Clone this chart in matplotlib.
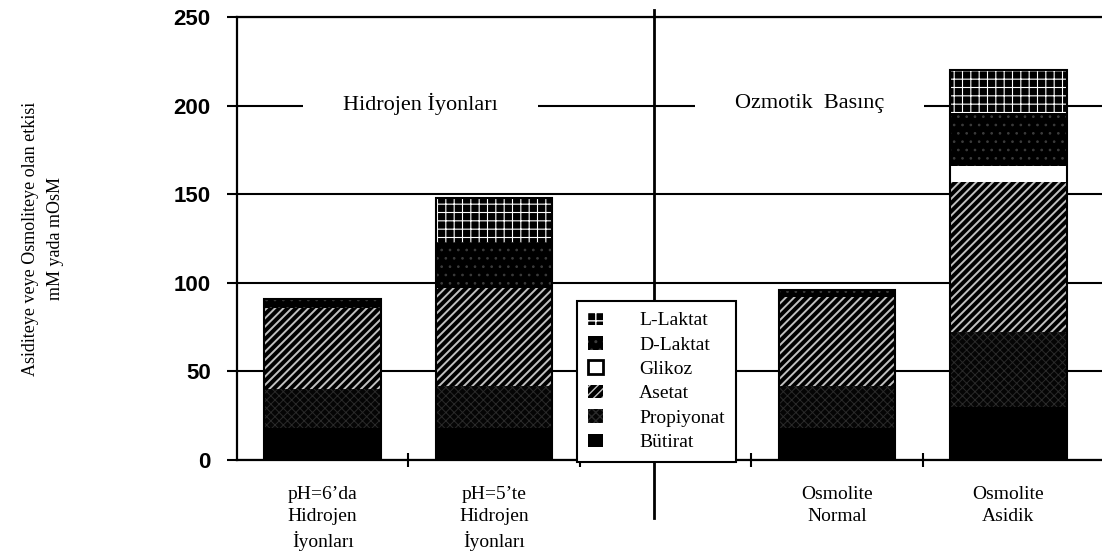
import numpy as np
import matplotlib.pyplot as plt
from matplotlib.patches import Patch

# ----- Data -----
categories = ["pH=6’da\nHidrojen\nİyonları", "pH=5’te\nHidrojen\nİyonları",
              "Osmolite\nNormal", "Osmolite\nAsidik"]
positions = [0, 1, 3, 4]

butirat = [18, 18, 18, 30]
propiyonat = [22, 24, 24, 42]
asetat = [46, 55, 50, 85]
glikoz = [0, 0, 0, 9]
d_laktat = [5, 26, 4, 30]
l_laktat = [0, 25, 0, 24]

series_names = ["Bütirat", "Propiyonat", "Asetat", "Glikoz", "D-Laktat", "L-Laktat"]
series_values = [butirat, propiyonat, asetat, glikoz, d_laktat, l_laktat]
y_ticks = [0, 50, 100, 150, 200, 250]

# ----- Styles: face colour, hatch, hatch colour, hatch width -----
styles = {
    "Bütirat": ("black", "", "black", 1.0),
    "Propiyonat": ("#050505", "xxxx", "#2a2a2a", 0.7),
    "Asetat": ("black", "////", "#c0c0c0", 1.4),
    "Glikoz": ("white", "", "white", 1.0),
    "D-Laktat": ("black", "..", "#3c3c3c", 0.7),
    "L-Laktat": ("black", "++", "white", 0.8),
}

serif = ["Liberation Serif", "DejaVu Serif"]
plt.rcParams["font.family"] = serif

fig = plt.figure(figsize=(11.02, 5.57), dpi=100)
ax = fig.add_axes([237 / 1102, 97 / 557, 865 / 1102, 443 / 557])

width = 0.68
bottom = np.zeros(len(positions))
for name, vals in zip(series_names, series_values):
    fc, h, hc, hlw = styles[name]
    with plt.rc_context({"hatch.linewidth": hlw}):
        bars = ax.bar(positions, vals, width, bottom=bottom, color=fc,
                      edgecolor=hc, linewidth=0, hatch=h, zorder=2)
    for p in bars:
        if hasattr(p, "set_hatch_linewidth"):
            p.set_hatch_linewidth(hlw)
    bottom += np.array(vals)

# outline of each stacked bar
ax.bar(positions, bottom, width, fill=False, edgecolor="black",
       linewidth=1.5, zorder=3)

# ----- Axes -----
ax.set_xlim(-0.5, -0.5 + 865 / 171.4)
ax.set_ylim(0, 250)
ax.set_yticks(y_ticks)
ax.set_yticklabels([str(t) for t in y_ticks], fontfamily="Liberation Sans",
                   fontweight="bold", fontsize=16)
ax.tick_params(axis="y", direction="out", length=7, width=1.5, pad=12)
ax.set_axisbelow(True)
ax.yaxis.grid(True, color="black", linewidth=1.5)

ax.set_xticks(positions)
ax.set_xticklabels(categories, fontsize=14, linespacing=1.35)
ax.tick_params(axis="x", which="major", length=0, pad=19)
ax.set_xticks([0.5, 1.5, 2.5, 3.5], minor=True)
ax.tick_params(axis="x", which="minor", direction="inout", length=10, width=1.5)

for s in ["left", "bottom", "top"]:
    ax.spines[s].set_linewidth(1.6)
ax.spines["right"].set_visible(False)

ax.set_ylabel("Asiditeye veye Osmoliteye olan etkisi\nmM yada mOsM",
              fontsize=13, linespacing=1.6)
ax.yaxis.set_label_coords(-0.2, 0.5)

# separator between the two groups
ax.axvline(1.93, ymin=-0.13, ymax=1.016, color="black", linewidth=2,
           clip_on=False, zorder=4)

# group titles sitting on the 200 line
box = dict(boxstyle="square,pad=1.8", facecolor="white", edgecolor="none")
ax.text(0.57, 201, "Hidrojen İyonları", fontsize=16, ha="center", va="center",
        bbox=box, zorder=1)
ax.text(2.84, 201, "Ozmotik  Basınç", fontsize=16, ha="center", va="center",
        bbox=box, zorder=1)

# ----- Legend -----
handles = []
for name in reversed(series_names):
    fc, h, hc, hlw = styles[name]
    if name == "Glikoz":
        handles.append(Patch(facecolor="white", edgecolor="black", linewidth=2,
                             label=name))
    else:
        handles.append(Patch(facecolor=fc, edgecolor=hc, hatch=h, linewidth=0,
                             label=name))
leg = ax.legend(handles=handles, loc="lower left",
                bbox_to_anchor=(577 / 1102, 1 - 462 / 557),
                bbox_transform=fig.transFigure, borderaxespad=0,
                fontsize=14, handlelength=0.8, handleheight=0.7,
                handletextpad=1.85, labelspacing=0.35, borderpad=0.55,
                fancybox=False, framealpha=1, edgecolor="black")
leg.get_frame().set_linewidth(1.5)
leg.set_zorder(5)

fig.savefig("out.png", dpi=100)
